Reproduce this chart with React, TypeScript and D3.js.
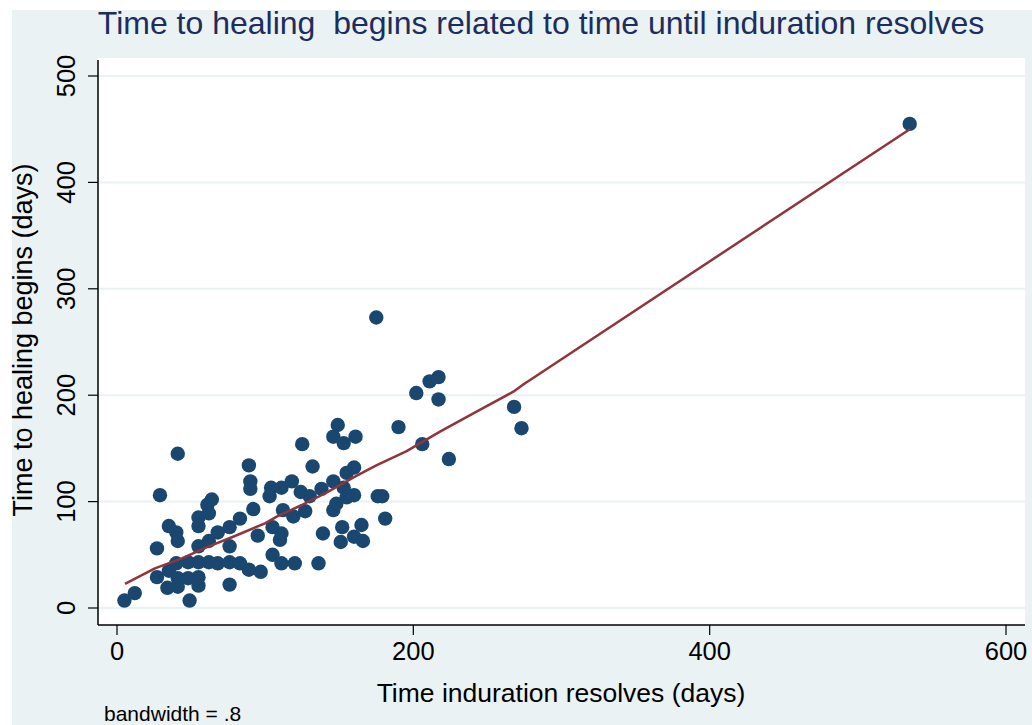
import React from "react";
import * as d3 from "d3";

// Scatter data: time induration resolves (days) vs time to healing begins (days)
const indurationDays = [
  5, 12, 27, 27, 29, 34, 35, 35, 41, 40, 41, 40, 41, 41, 48, 49, 48, 55, 55, 55, 55, 55, 55,
  61, 64, 62, 62, 62, 68, 68, 76, 76, 76, 76, 83, 83, 89, 90, 90, 92, 89, 97, 95, 103, 104,
  105, 111, 110, 105, 111, 120, 111, 118, 124, 112, 119, 127, 130, 125, 132, 138, 146, 139,
  136, 149, 146, 153, 161, 160, 155, 153, 160, 155, 148, 146, 152, 151, 160, 165, 166, 176,
  179, 181, 175, 190, 202, 211, 217, 217, 206, 224, 268, 273, 535,
];
const healingDays = [
  7, 14, 56, 29, 106, 19, 77, 35, 145, 71, 63, 42, 28, 20, 28, 7, 43, 85, 77, 58, 43, 29, 21,
  97, 102, 89, 63, 43, 71, 42, 76, 58, 43, 22, 84, 42, 134, 119, 112, 93, 36, 34, 68, 105, 113,
  76, 70, 64, 50, 42, 42, 113, 119, 109, 92, 86, 91, 105, 154, 133, 112, 119, 70, 42, 172, 161,
  155, 161, 132, 127, 113, 106, 104, 98, 92, 76, 62, 67, 78, 63, 105, 105, 84, 273, 170, 202,
  213, 217, 196, 154, 140, 189, 169, 455,
];

// Lowess fit (bandwidth .8)
const lowessX = [5.4, 25.6, 43.7, 61.6, 79.6, 99.9, 107.8, 124.7, 140.4, 160.6, 175.0, 195.5, 218.0, 240.5, 267.5, 274.2, 535.3];
const lowessY = [22.6, 37.3, 46.7, 57.6, 67.7, 79.6, 85.8, 96.8, 107.8, 123.4, 134.0, 147.4, 165.7, 183.0, 203.3, 210.1, 450.2];

const xTicks = [0, 200, 400, 600];
const yTicks = [0, 100, 200, 300, 400, 500];

const titleText = "Time to healing  begins related to time until induration resolves";
const xTitle = "Time induration resolves (days)";
const yTitle = "Time to healing begins (days)";
const noteText = "bandwidth = .8";

const FONT = "'Liberation Sans', Arial, Helvetica, sans-serif";

export default function App() {
  const W = 1032;
  const H = 725;
  const plot = { left: 98, right: 1025, top: 58, bottom: 625 };
  const x = d3.scaleLinear().domain([0, 600]).range([117, 1006]);
  const y = d3.scaleLinear().domain([0, 500]).range([608, 76]);

  const pts = indurationDays.map((d, i) => [d, healingDays[i]] as [number, number]);
  const line = d3
    .line<number>()
    .x((d) => x(d))
    .y((_, i) => y(lowessY[i]));
  const path = line(lowessX) || "";

  return (
    <svg
      width={W}
      height={H}
      style={{ position: "absolute", left: 0, top: 0, display: "block" }}
      xmlns="http://www.w3.org/2000/svg"
    >
      <rect x={0} y={0} width={W} height={H} fill="#ffffff" />
      <rect x={12} y={10} width={W - 12} height={H - 10} fill="#eaf2f3" />
      <rect
        x={plot.left}
        y={plot.top}
        width={plot.right - plot.left}
        height={plot.bottom - plot.top}
        fill="#ffffff"
      />
      {/* gridlines */}
      {yTicks.map((t) => (
        <line
          key={"g" + t}
          x1={plot.left}
          x2={plot.right}
          y1={y(t)}
          y2={y(t)}
          stroke="#eaf2f3"
          strokeWidth={2}
        />
      ))}
      {/* points */}
      {pts.map((p, i) => (
        <circle key={"p" + i} cx={x(p[0])} cy={y(p[1])} r={7.2} fill="#1a476f" />
      ))}
      {/* lowess */}
      <path d={path} fill="none" stroke="#90353b" strokeWidth={2.5} strokeLinejoin="round" />
      {/* axes */}
      <line x1={plot.left} x2={plot.left} y1={60} y2={plot.bottom} stroke="#000" strokeWidth={1.5} />
      <line x1={plot.left} x2={plot.right} y1={plot.bottom} y2={plot.bottom} stroke="#000" strokeWidth={1.5} />
      {yTicks.map((t) => (
        <g key={"yt" + t}>
          <line x1={88} x2={plot.left} y1={y(t)} y2={y(t)} stroke="#000" strokeWidth={1.2} />
          <text
            transform={`translate(75,${y(t)}) rotate(-90)`}
            textAnchor="middle"
            fontFamily={FONT}
            fontSize={25.5}
            fill="#000"
          >
            {t}
          </text>
        </g>
      ))}
      {xTicks.map((t) => (
        <g key={"xt" + t}>
          <line x1={x(t)} x2={x(t)} y1={plot.bottom} y2={635} stroke="#000" strokeWidth={1.2} />
          <text x={x(t)} y={660} textAnchor="middle" fontFamily={FONT} fontSize={25.5} fill="#000">
            {t}
          </text>
        </g>
      ))}
      {/* titles */}
      <text
        x={541}
        y={34}
        textAnchor="middle"
        fontFamily={FONT}
        fontSize={32}
        fill="#1c2d5e"
        style={{ whiteSpace: "pre" }}
        xmlSpace="preserve"
      >
        {titleText}
      </text>
      <text x={561} y={702} textAnchor="middle" fontFamily={FONT} fontSize={26.5} fill="#000">
        {xTitle}
      </text>
      <text
        transform={`translate(32,340) rotate(-90)`}
        textAnchor="middle"
        fontFamily={FONT}
        fontSize={27}
        fill="#000"
      >
        {yTitle}
      </text>
      <text x={104} y={721} fontFamily={FONT} fontSize={21} fill="#000">
        {noteText}
      </text>
    </svg>
  );
}
